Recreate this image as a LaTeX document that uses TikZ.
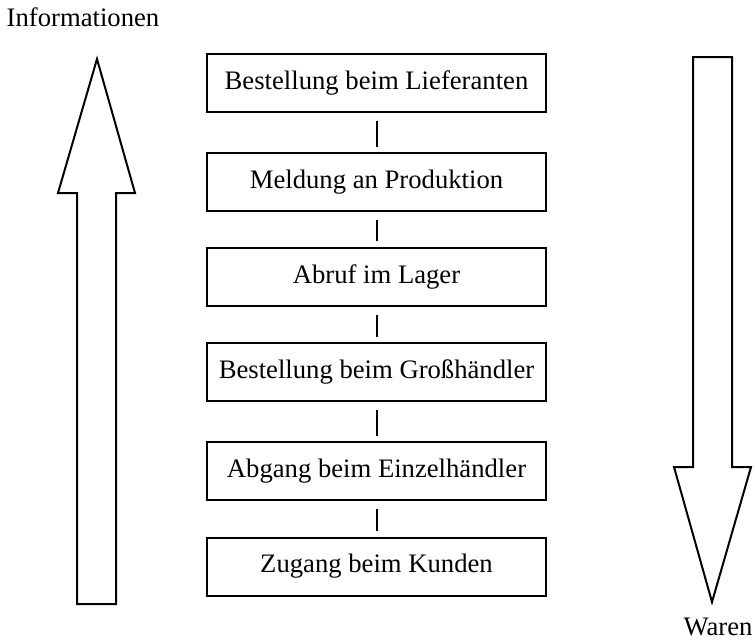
\documentclass[tikz,border=0pt]{standalone}
\usepackage{fontspec}
\setmainfont{Liberation Serif}
\begin{document}
\begin{tikzpicture}[x=0.75pt,y=-0.75pt,line width=1.5pt,
  stage/.style={draw, rectangle, minimum width=254pt, minimum height=43.5pt, inner sep=0pt, font=\fontsize{20}{24}\selectfont},
  lbl/.style={inner sep=0pt, font=\fontsize{20}{24}\selectfont}]
\useasboundingbox (0,0) rectangle (755,639);
\node[lbl, anchor=base] (info) at (83,26){Informationen};
\node[lbl, anchor=base] (waren) at (718,635){Waren};
\node[stage] (st0) at (376.5,82.5){Bestellung beim Lieferanten};
\node[stage] (st1) at (376.5,182){Meldung an Produktion};
\node[stage] (st2) at (376.5,276.5){Abruf im Lager};
\node[stage] (st3) at (376.5,372){Bestellung beim Gro\ss h\"andler};
\node[stage] (st4) at (376.5,471){Abgang beim Einzelh\"andler};
\node[stage] (st5) at (376.5,566.5){Zugang beim Kunden};
\draw[shorten <=6pt, shorten >=4pt](st0) -- (st1);
\draw[shorten <=6pt, shorten >=4pt](st1) -- (st2);
\draw[shorten <=6pt, shorten >=4pt](st2) -- (st3);
\draw[shorten <=6pt, shorten >=4pt](st3) -- (st4);
\draw[shorten <=6pt, shorten >=4pt](st4) -- (st5);
% Informationsfluss nach oben
\draw (97,59) -- (135,193) -- (116,193) -- (116,604) -- (77,604) -- (77,193) -- (58,193) -- cycle;
% Warenfluss nach unten
\draw (693,57) -- (732,57) -- (732,467) -- (751,467) -- (712,602) -- (674,467) -- (693,467) -- cycle;

\end{tikzpicture}
\end{document}
